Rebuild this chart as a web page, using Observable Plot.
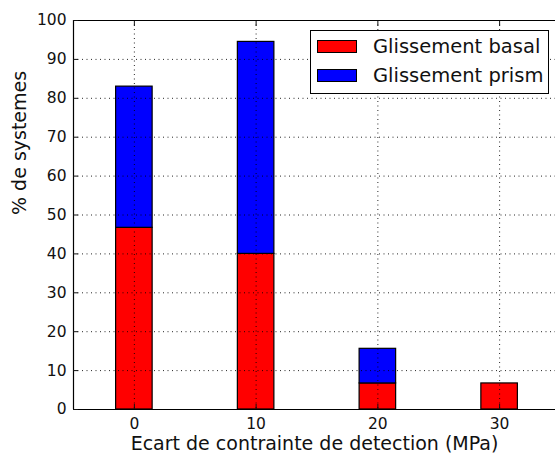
<!DOCTYPE html>
<html>
<head>
<meta charset="utf-8">
<script src="https://cdn.jsdelivr.net/npm/d3@7"></script>
<script src="https://cdn.jsdelivr.net/npm/@observablehq/plot@0.6"></script>
<style>
  html, body { margin: 0; padding: 0; background: #fff; overflow: hidden; }
  #wrap { position: relative; width: 555px; height: 453px; font-family: "DejaVu Sans", sans-serif; }
  .legend { position: absolute; left: 310px; top: 30px; width: 239px; height: 64px; border: 1px solid #000; background: #fff; box-sizing: border-box; }
  .legend .row { position: absolute; left: 6px; display: flex; align-items: center; font-size: 19.5px; color: #111; white-space: nowrap; }
  .legend .sw { width: 40px; height: 13px; border: 1px solid #000; box-sizing: border-box; margin-right: 16px; }
</style>
</head>
<body>
<div id="wrap"></div>
<script>
// Detection threshold offsets (MPa)
const offsets = [0, 10, 20, 30];
// Share of systems (%) per slip mode
const basal = [46.7, 40.0, 6.7, 6.7];
const prism = [36.3, 54.5, 8.9, 0];
const seriesNames = ["Glissement basal", "Glissement prism"];
const seriesColors = ["#ff0000", "#0000ff"];
const yTicks = [0, 10, 20, 30, 40, 50, 60, 70, 80, 90, 100];
const barWidth = 3;

// Stacked segments: basal at the bottom, prismatic above it
const rows = [];
offsets.forEach((x, i) => {
  rows.push({x1: x - barWidth / 2, x2: x + barWidth / 2, y1: 0, y2: basal[i], s: seriesNames[0]});
  if (prism[i] > 0) rows.push({x1: x - barWidth / 2, x2: x + barWidth / 2, y1: basal[i], y2: basal[i] + prism[i], s: seriesNames[1]});
});

const blank = () => "";
const chart = Plot.plot({
  width: 555,
  height: 453,
  marginLeft: 73,
  marginRight: 0,
  marginTop: 20,
  marginBottom: 44,
  style: {fontFamily: "DejaVu Sans, sans-serif", background: "white", color: "#111"},
  x: {domain: [-5, 34.59], ticks: offsets},
  y: {domain: [0, 100], ticks: yTicks},
  color: {domain: seriesNames, range: seriesColors},
  marks: [
    Plot.rect(rows, {x1: "x1", x2: "x2", y1: "y1", y2: "y2", fill: "s", stroke: "black", strokeWidth: 1.2}),
    Plot.gridY(yTicks, {stroke: "black", strokeOpacity: 0.85, strokeDasharray: "1,3.5"}),
    Plot.gridX(offsets, {stroke: "black", strokeOpacity: 0.85, strokeDasharray: "1,3.5"}),
    Plot.ruleY([0, 100], {stroke: "black", strokeWidth: 1.2}),
    Plot.ruleX([-5], {stroke: "black", strokeWidth: 1.2}),
    Plot.axisY(yTicks, {tickSize: 0, tickPadding: 7, fontSize: 15.5, label: null}),
    Plot.axisY(yTicks, {tickSize: -5, tickFormat: blank, label: null}),
    Plot.axisX(offsets, {tickSize: 0, tickPadding: 8, fontSize: 15.5, label: null}),
    Plot.axisX(offsets, {tickSize: -5, tickFormat: blank, label: null}),
    Plot.axisX(offsets, {anchor: "top", tickSize: -5, tickFormat: blank, label: null}),
    Plot.text(["Ecart de contrainte de detection (MPa)"], {frameAnchor: "bottom", dy: 40, lineAnchor: "bottom", fontSize: 19, fill: "#111"}),
    Plot.text(["% de systemes"], {frameAnchor: "left", rotate: -90, dx: -54, fontSize: 19, fill: "#111"})
  ]
});

const wrap = document.getElementById("wrap");
wrap.appendChild(chart);

// Legend box in the upper right of the plot area
const legend = document.createElement("div");
legend.className = "legend";
seriesNames.forEach((name, i) => {
  const row = document.createElement("div");
  row.className = "row";
  row.style.top = (i === 0 ? 4 : 33) + "px";
  const sw = document.createElement("div");
  sw.className = "sw";
  sw.style.background = seriesColors[i];
  row.appendChild(sw);
  row.appendChild(document.createTextNode(name));
  legend.appendChild(row);
});
wrap.appendChild(legend);
</script>
</body>
</html>
